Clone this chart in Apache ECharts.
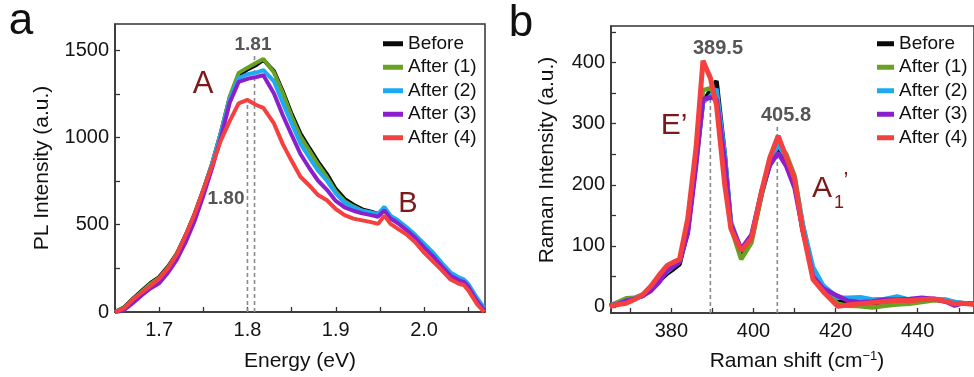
<!DOCTYPE html>
<html><head><meta charset="utf-8">
<script src="https://cdn.jsdelivr.net/npm/echarts@6/dist/echarts.min.js"></script>
<style>html,body{margin:0;padding:0;background:#fff}#c{width:974px;height:377px}</style>
</head><body><div id="c"></div>
<script>
// ---------- Panel a: PL spectra ----------
const seriesNames = ['Before','After (1)','After (2)','After (3)','After (4)'];
const seriesColors = ['#0a0a0a','#69a123','#1eaaf1','#8c1fcc','#f4413f'];

const energy = [1.650,1.660,1.670,1.680,1.690,1.700,1.710,1.720,1.730,1.740,1.750,1.760,1.770,1.780,1.790,1.800,1.810,1.818,1.830,1.840,1.850,1.860,1.870,1.880,1.890,1.900,1.910,1.920,1.930,1.940,1.948,1.955,1.962,1.970,1.980,1.990,2.000,2.010,2.020,2.030,2.040,2.045,2.050,2.060,2.068];
const plBefore = [0,25,75,120,165,200,260,335,440,560,700,850,1030,1230,1355,1390,1415,1445,1380,1265,1135,1022,940,860,790,705,648,615,588,575,562,592,546,520,482,432,382,332,272,216,186,176,150,66,5];
const plAfter1 = [0,22,72,115,160,195,255,330,435,555,695,848,1030,1235,1370,1400,1428,1450,1372,1255,1120,1005,925,845,772,690,635,605,580,568,555,585,540,515,477,428,377,327,267,212,182,172,146,62,3];
const plAfter2 = [0,20,65,110,150,185,245,320,425,545,690,850,1025,1220,1340,1362,1372,1386,1322,1198,1080,965,885,810,752,680,625,600,580,570,562,602,552,527,487,442,392,342,282,227,197,187,162,80,25];
const plAfter3 = [0,10,50,95,135,165,225,300,400,520,665,825,1000,1200,1318,1336,1346,1356,1252,1127,1015,905,825,752,700,636,600,580,565,555,546,582,536,510,470,425,370,320,262,208,180,172,145,62,10];
const plAfter4 = [0,20,70,110,150,190,250,330,440,560,700,840,985,1095,1195,1215,1186,1170,1080,962,866,775,725,670,640,590,555,535,525,515,505,552,505,478,445,400,340,290,240,186,160,155,125,45,0];
const plValues = [plBefore, plAfter1, plAfter2, plAfter3, plAfter4];

const plPeakX = [1.800, 1.808];
const plPeakTop = [1235, 1478];
const plXTicks = [1.65,1.70,1.75,1.80,1.85,1.90,1.95,2.00,2.05];
const plXLabels = [1.7,1.8,1.9,2.0];
const plYTicks = [0,250,500,750,1000,1250,1500];
const plYLabels = [0,500,1000,1500];

// ---------- Panel b: Raman spectra ----------
const shift = [365,367,369,371,373,375,377,379,380.5,382,384,386,387.7,389.5,391,393,394.5,397,399.5,402,404,406,408,410,412,414.5,417,420.5,423,426,429,432,435,438,441,444,447,449,451,453.7];
const ramBefore = [1,5,10,14,18,28,42,55,62,70,125,240,335,355,370,250,135,88,110,185,235,262,240,205,125,55,30,12,8,8,6,8,9,8,11,12,10,7,6,5];
const ramAfter1 = [2,8,14,15,20,30,48,62,68,75,135,250,355,358,345,240,130,78,105,185,240,268,250,215,135,60,30,5,2,1,-1,2,4,5,8,11,10,8,6,5];
const ramAfter2 = [1,6,10,14,19,30,46,58,66,74,125,235,335,345,357,250,140,92,115,190,240,265,245,210,135,65,35,15,15,16,12,13,17,12,12,13,12,8,6,5];
const ramAfter3 = [2,5,10,13,18,26,40,60,66,74,120,230,340,343,340,240,135,95,118,190,232,252,230,195,125,50,30,18,10,8,9,12,12,13,15,13,8,2,6,5];
const ramAfter4 = [1,4,6,12,20,34,52,68,73,78,145,260,403,375,330,200,128,92,112,190,245,280,245,210,125,45,25,1,3,5,7,9,11,10,12,13,9,5,6,4];
const ramValues = [ramBefore, ramAfter1, ramAfter2, ramAfter3, ramAfter4];

const ramPeakX = [389.5, 405.8];
const ramPeakTop = [383, 296];
const ramXTicks = [370,380,390,400,410,420,430,440,450];
const ramXLabels = [380,400,420,440];
const ramYTicks = [0,50,100,150,200,250,300,350,400,450];
const ramYLabels = [0,100,200,300,400];

// ---------- build ----------
const FONT = '"Liberation Sans", Arial, sans-serif';
const axisLineStyle = {color:'#333', width:1.5};
function xAxisCfg(grid, min, max, ticks, labels, fmt){
  return {gridIndex:grid, type:'value', min:min, max:max,
    axisLine:{onZero:false, lineStyle:axisLineStyle},
    axisTick:{inside:true, length:5, customValues:ticks, lineStyle:{color:'#333', width:1.3}},
    axisLabel:{customValues:labels, formatter:fmt, fontSize:20, color:'#141414', fontFamily:FONT, margin:8},
    splitLine:{show:false}};
}
function yAxisCfg(grid, min, max, ticks, labels){
  return {gridIndex:grid, type:'value', min:min, max:max,
    axisLine:{onZero:false, lineStyle:axisLineStyle},
    axisTick:{inside:true, length:5, customValues:ticks, lineStyle:{color:'#333', width:1.3}},
    axisLabel:{customValues:labels, formatter:v=>String(Math.round(v)), fontSize:20, color:'#141414', fontFamily:FONT, margin:6},
    splitLine:{show:false}};
}

const series = [];
seriesNames.forEach((n,k)=>{
  series.push({name:n, type:'line', xAxisIndex:0, yAxisIndex:0, symbol:'none', silent:true,
    color:seriesColors[k], lineStyle:{width:4, color:seriesColors[k]},
    data: energy.map((e,i)=>[e, plValues[k][i]]), z:3+k});
});
seriesNames.forEach((n,k)=>{
  series.push({name:n, type:'line', xAxisIndex:1, yAxisIndex:1, symbol:'none', silent:true,
    color:seriesColors[k], lineStyle:{width:k===4?5:4.5, color:seriesColors[k]},
    data: shift.map((s,i)=>[s, ramValues[k][i]]), z:3+k});
});
plPeakX.forEach((x,i)=>{
  series.push({name:'pl-peak-'+i, type:'line', xAxisIndex:0, yAxisIndex:0, symbol:'none', silent:true,
    lineStyle:{width:1.6, color:'#8a8a8a', type:[4,3]}, data:[[x,0],[x,plPeakTop[i]]], z:2});
});
ramPeakX.forEach((x,i)=>{
  series.push({name:'ram-peak-'+i, type:'line', xAxisIndex:1, yAxisIndex:1, symbol:'none', silent:true,
    lineStyle:{width:1.6, color:'#8a8a8a', type:[4,3]}, data:[[x,-10],[x,ramPeakTop[i]]], z:2});
});

const annRed = '#7b1a1a', annGray = '#555';
function txt(x,y,text,size,color,extra){
  return Object.assign({type:'text', x:x, y:y, silent:true,
    style:Object.assign({text:text, fontSize:size, fill:color, fontFamily:FONT, align:'center', verticalAlign:'middle'}, extra||{})});
}
const graphic = [
  txt(21,22,'a',44,'#111'),
  txt(521,24,'b',44,'#111'),
  txt(203,84,'A',31,annRed),
  txt(408,204,'B',29,annRed),
  txt(253,45,'1.81',19,annGray,{fontWeight:'bold'}),
  txt(226,199,'1.80',19,annGray,{fontWeight:'bold'}),
  txt(718,48,'389.5',20,annGray,{fontWeight:'bold'}),
  txt(786,115,'405.8',20,annGray,{fontWeight:'bold'}),
  txt(674,126,'E’',30,annRed),
  txt(822,189,'A',30,annRed),
  txt(839,203,'1',18,annRed),
  txt(846,181,'’',22,annRed),
  txt(300,361,'Energy (eV)',21,'#111'),
  {type:'text', x:42, y:168, rotation:Math.PI/2, silent:true,
    style:{text:'PL Intensity (a.u.)', fontSize:21, fill:'#111', fontFamily:FONT, align:'center', verticalAlign:'middle'}},
  {type:'text', x:547, y:160, rotation:Math.PI/2, silent:true,
    style:{text:'Raman Intensity (a.u.)', fontSize:21, fill:'#111', fontFamily:FONT, align:'center', verticalAlign:'middle'}},
  {type:'text', x:797, y:361, silent:true,
    style:{text:'Raman shift (cm{s|−1})', fontSize:21, fill:'#111', fontFamily:FONT, align:'center', verticalAlign:'middle',
      rich:{s:{fontSize:13, fill:'#111', fontFamily:FONT, verticalAlign:'top', padding:[0,0,10,0]}}}}
];

const legendText = {fontSize:19, color:'#111', fontFamily:FONT, lineHeight:19.5};
const option = {
  animation:false,
  backgroundColor:'#fff',
  grid:[
    {left:115, top:24, right:489, bottom:65, show:true, borderColor:'#333', borderWidth:1.5, backgroundColor:'transparent'},
    {left:611, top:26, right:-3, bottom:64, show:true, borderColor:'#333', borderWidth:1.5, backgroundColor:'transparent'}
  ],
  xAxis:[
    xAxisCfg(0, 1.65, 2.069, plXTicks, plXLabels, v=>Number(v).toFixed(1)),
    xAxisCfg(1, 365.3, 453.7, ramXTicks, ramXLabels, v=>String(Math.round(v)))
  ],
  yAxis:[
    yAxisCfg(0, 0, 1650, plYTicks, plYLabels),
    yAxisCfg(1, -10, 460, ramYTicks, ramYLabels)
  ],
  legend:[
    {data:seriesNames, orient:'vertical', left:383, top:34, icon:'rect', itemWidth:20, itemHeight:5, itemGap:4, selectedMode:false, textStyle:legendText, padding:0},
    {data:seriesNames, orient:'vertical', left:877, top:34, icon:'rect', itemWidth:17, itemHeight:5, itemGap:4, selectedMode:false, textStyle:legendText, padding:0}
  ],
  series:series,
  graphic:graphic
};
const chart = echarts.init(document.getElementById('c'), null, {renderer:'canvas'});
chart.setOption(option);
</script></body></html>
